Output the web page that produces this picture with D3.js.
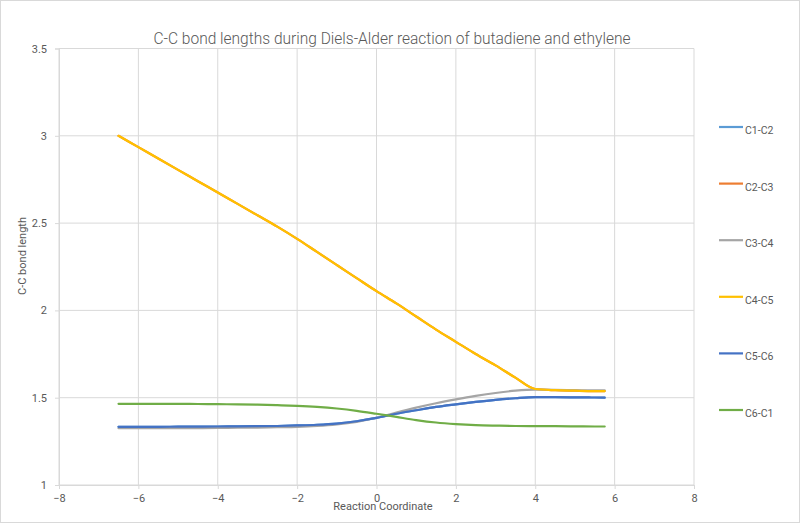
<!DOCTYPE html>
<html>
<head>
<meta charset="utf-8">
<script src="https://cdn.jsdelivr.net/npm/d3@7"></script>
<style>
  body { margin: 0; background: #fff; }
  text { font-family: Roboto, "Open Sans", sans-serif; fill: #595959; }
</style>
</head>
<body>
<svg id="chart" width="800" height="523"></svg>
<script>
const title = "C-C bond lengths during Diels-Alder reaction of butadiene and ethylene";
const xLabel = "Reaction Coordinate";
const yLabel = "C-C bond length";

const xTicks = [-8, -6, -4, -2, 0, 2, 4, 6, 8];
const yTicks = [1, 1.5, 2, 2.5, 3, 3.5];

const coord = [-6.5, -6, -5.5, -5, -4.5, -4, -3.5, -3, -2.5, -2, -1.5, -1, -0.5,
               0, 0.5, 1, 1.5, 2, 2.5, 3, 3.5, 4, 4.5, 5, 5.5, 5.75];

const c1c2 = [1.333, 1.333, 1.333, 1.334, 1.334, 1.335, 1.336, 1.337, 1.338, 1.341, 1.345, 1.352, 1.365,
              1.384, 1.408, 1.428, 1.447, 1.462, 1.476, 1.488, 1.497, 1.503, 1.503, 1.502, 1.501, 1.500];
const c2c3 = [3.00, 2.935, 2.87, 2.805, 2.74, 2.675, 2.61, 2.545, 2.48, 2.41, 2.335, 2.26, 2.185,
              2.11, 2.04, 1.965, 1.89, 1.82, 1.75, 1.685, 1.615, 1.55, 1.543, 1.54, 1.538, 1.538];
const c3c4 = [1.325, 1.325, 1.325, 1.326, 1.326, 1.327, 1.328, 1.329, 1.331, 1.333, 1.338, 1.347, 1.362,
              1.385, 1.415, 1.443, 1.468, 1.490, 1.510, 1.527, 1.540, 1.546, 1.545, 1.543, 1.542, 1.542];
const c4c5 = [3.00, 2.935, 2.87, 2.805, 2.74, 2.675, 2.61, 2.545, 2.48, 2.41, 2.335, 2.26, 2.185,
              2.11, 2.04, 1.965, 1.89, 1.82, 1.75, 1.685, 1.615, 1.55, 1.543, 1.54, 1.538, 1.538];
const c5c6 = [1.333, 1.333, 1.333, 1.334, 1.334, 1.335, 1.336, 1.337, 1.338, 1.341, 1.345, 1.352, 1.365,
              1.384, 1.408, 1.428, 1.447, 1.462, 1.476, 1.488, 1.497, 1.503, 1.503, 1.502, 1.501, 1.500];
const c6c1 = [1.465, 1.465, 1.465, 1.465, 1.464, 1.463, 1.462, 1.460, 1.457, 1.453, 1.447, 1.438, 1.425,
              1.408, 1.390, 1.372, 1.358, 1.349, 1.343, 1.340, 1.338, 1.337, 1.337, 1.336, 1.335, 1.335];

const seriesNames = ["C1-C2", "C2-C3", "C3-C4", "C4-C5", "C5-C6", "C6-C1"];
const seriesValues = [c1c2, c2c3, c3c4, c4c5, c5c6, c6c1];
const seriesColors = ["#5B9BD5", "#ED7D31", "#A5A5A5", "#FFC000", "#4472C4", "#70AD47"];

const margin = { top: 48.5, right: 106, bottom: 38, left: 59 };
const W = 800, H = 523;
const width = W - margin.left - margin.right;
const height = H - margin.top - margin.bottom;

const svg = d3.select("#chart");

svg.append("rect")
    .attr("x", 0.5).attr("y", 0.5)
    .attr("width", W - 1).attr("height", H - 1)
    .attr("fill", "#fff")
    .attr("stroke", "#d9d9d9");

const g = svg.append("g")
    .attr("transform", `translate(${margin.left},${margin.top})`);

const x = d3.scaleLinear().domain([-8, 8]).range([0, width]);
const y = d3.scaleLinear().domain([1, 3.5]).range([height, 0]);

// gridlines
g.append("g")
    .selectAll("line")
    .data(xTicks)
    .enter().append("line")
    .attr("x1", d => x(d)).attr("x2", d => x(d))
    .attr("y1", 0).attr("y2", height)
    .attr("stroke", "#d9d9d9").attr("stroke-width", 1);

g.append("g")
    .selectAll("line")
    .data(yTicks)
    .enter().append("line")
    .attr("x1", 0).attr("x2", width)
    .attr("y1", d => y(d)).attr("y2", d => y(d))
    .attr("stroke", "#d9d9d9").attr("stroke-width", 1);

// axes
const xAxis = g.append("g")
    .attr("transform", `translate(0,${height})`)
    .call(d3.axisBottom(x).tickValues(xTicks).tickSize(4).tickPadding(5).tickFormat(d3.format("d")));
const yAxis = g.append("g")
    .call(d3.axisLeft(y).tickValues(yTicks).tickSize(4).tickPadding(8).tickFormat(d => d));

[xAxis, yAxis].forEach(a => {
    a.select(".domain").attr("stroke", "#d9d9d9");
    a.selectAll(".tick line").attr("stroke", "#d9d9d9");
    a.selectAll("text")
        .style("font-family", "Roboto, 'Open Sans', sans-serif")
        .style("font-size", "11px")
        .attr("fill", "#595959");
});
yAxis.selectAll(".tick text").attr("dy", "0.32em");

// series lines
const line = d3.line()
    .x((d, i) => x(coord[i]))
    .y(d => y(d))
    .curve(d3.curveMonotoneX);

seriesValues.forEach((vals, k) => {
    g.append("path")
        .datum(vals)
        .attr("fill", "none")
        .attr("stroke", seriesColors[k])
        .attr("stroke-width", 2.2)
        .attr("stroke-linejoin", "round")
        .attr("stroke-linecap", "round")
        .attr("d", line);
});

// title + axis labels
svg.append("text")
    .attr("x", 392).attr("y", 44)
    .attr("text-anchor", "middle")
    .attr("textLength", 477)
    .attr("lengthAdjust", "spacingAndGlyphs")
    .style("font-size", "16px")
    .style("font-weight", "300")
    .text(title);

svg.append("text")
    .attr("x", 383).attr("y", 510)
    .attr("text-anchor", "middle")
    .style("font-size", "11px")
    .text(xLabel);

svg.append("text")
    .attr("transform", "translate(26,256) rotate(-90)")
    .attr("text-anchor", "middle")
    .style("font-size", "11px")
    .text(yLabel);

// legend
const legend = svg.append("g").attr("transform", "translate(719,127)");
seriesNames.forEach((name, i) => {
    const row = legend.append("g").attr("transform", `translate(0,${i * 56.6})`);
    row.append("line")
        .attr("x1", 0).attr("x2", 24)
        .attr("y1", 0).attr("y2", 0)
        .attr("stroke", seriesColors[i])
        .attr("stroke-width", 2.2);
    row.append("text")
        .attr("x", 26).attr("y", 7)
        .style("font-size", "10.5px")
        .text(name);
});
</script>
</body>
</html>
